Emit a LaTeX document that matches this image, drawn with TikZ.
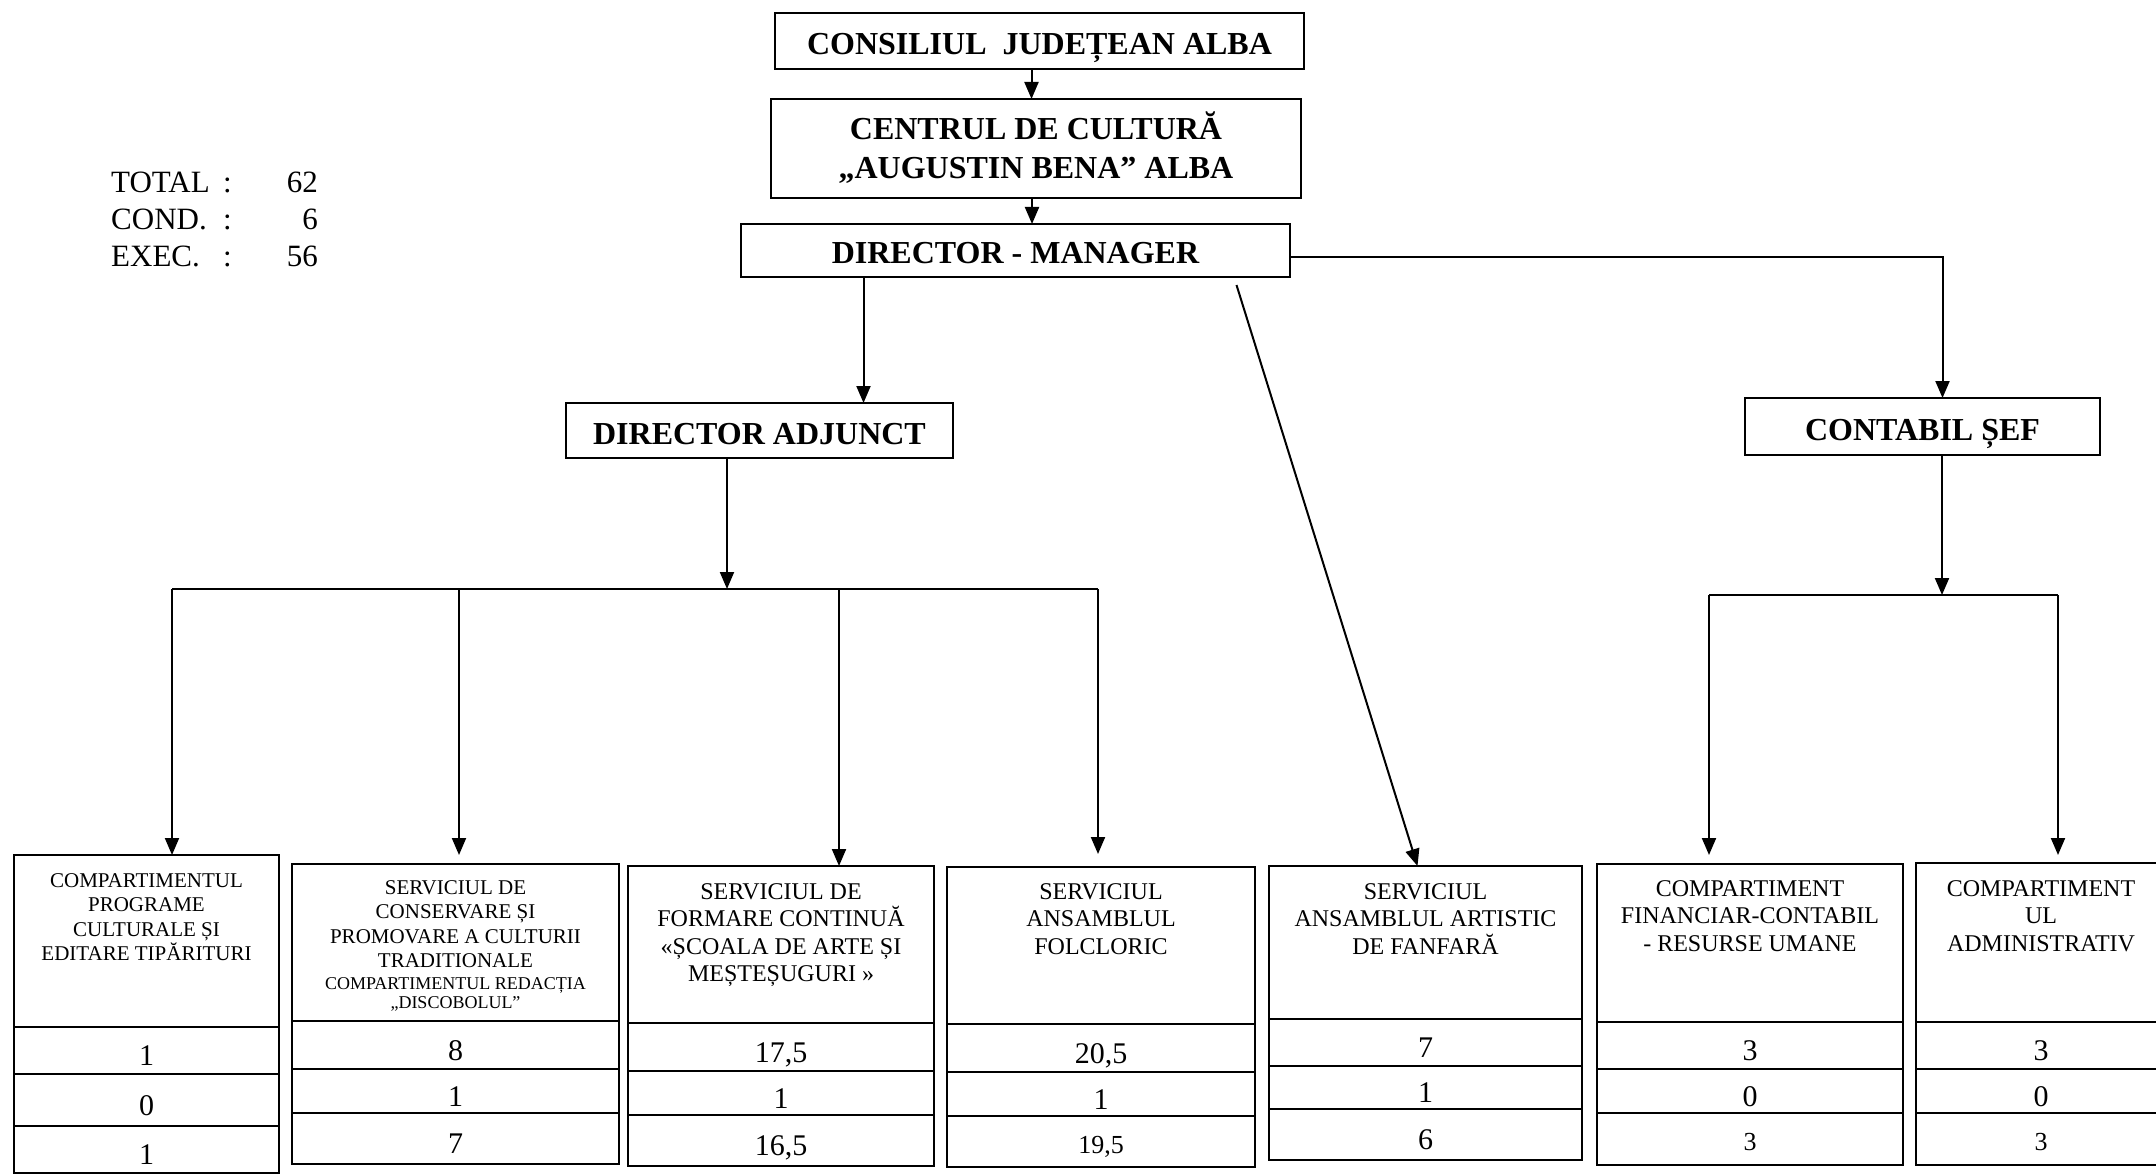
\documentclass[tikz,border=0pt]{standalone}
\usepackage{fontspec}
\setmainfont{Liberation Serif}
\usetikzlibrary{arrows.meta,positioning}

\begin{document}
\begin{tikzpicture}[x=1pt, y=-1pt,
  box/.style={draw, line width=2.2pt, inner sep=0pt, outer sep=0pt},
  head/.style={box, align=center, text height=27pt, text depth=0pt,
    font=\bfseries\fontsize{32}{39}\selectfont},
  cell/.style={box, text height=30pt, text depth=0pt, font=\fontsize{30}{30}\selectfont},
  cellsm/.style={cell, text height=23.5pt, font=\fontsize{26}{26}\selectfont},
  txt/.style={anchor=north, align=center, inner sep=0pt, font=\fontsize{24}{27.5}\selectfont},
  txtsm/.style={anchor=north, align=center, inner sep=0pt, font=\fontsize{21}{24.5}\selectfont},
  wire/.style={line width=2pt},
  link/.style={wire, -{Triangle[width=14pt,length=17pt]}}]
  \useasboundingbox (0,0) rectangle (2156,1174);

  % staff totals
  \node[anchor=north west, inner sep=0pt, font=\fontsize{31}{37}\selectfont] (total) at (111,166)
    {\begin{tabular}{@{}l@{}l@{}l@{}}
      \makebox[112pt][l]{TOTAL} & : & \makebox[86pt][r]{62}\\
      \makebox[112pt][l]{COND.} & : & \makebox[86pt][r]{6}\\
      \makebox[112pt][l]{EXEC.} & : & \makebox[86pt][r]{56}
    \end{tabular}};

  % upper levels
  \node[head, minimum width=529pt, minimum height=56pt] (cja) at (1039.5,41) {CONSILIUL\ \ JUDEȚEAN ALBA};
  \node[head, text height=60pt, minimum width=530pt, minimum height=99pt] (ccab) at (1036,148.5) {CENTRUL DE CULTURĂ\\„AUGUSTIN BENA” ALBA};
  \node[head, minimum width=549pt, minimum height=53pt] (dm) at (1015.5,250.5) {DIRECTOR - MANAGER};
  \node[head, minimum width=387pt, minimum height=55pt] (da) at (759.5,430.5) {DIRECTOR ADJUNCT};
  \node[head, minimum width=355pt, minimum height=57pt] (cs) at (1922.5,426.5) {CONTABIL ȘEF};

  % column 1
  \node[box, minimum width=265pt, minimum height=172pt] (prog) at (146.5,941) {};
  \node[cell, minimum width=265pt, minimum height=47pt, below=0pt of prog] (prog1) {1};
  \node[cell, minimum width=265pt, minimum height=52pt, below=0pt of prog1] (prog2) {0};
  \node[cell, minimum width=265pt, minimum height=47pt, below=0pt of prog2] (prog3) {1};
  \node[txtsm] (progt) at (146.5,873) {COMPARTIMENTUL\\PROGRAME\\CULTURALE ȘI\\EDITARE TIPĂRITURI};

  % column 2
  \node[box, minimum width=327pt, minimum height=157pt] (cons) at (455.5,942.5) {};
  \node[cell, minimum width=327pt, minimum height=48pt, below=0pt of cons] (cons1) {8};
  \node[cell, minimum width=327pt, minimum height=44pt, below=0pt of cons1] (cons2) {1};
  \node[cell, minimum width=327pt, minimum height=51pt, below=0pt of cons2] (cons3) {7};
  \node[txtsm] (const) at (455.5,880) {SERVICIUL DE\\CONSERVARE ȘI\\PROMOVARE A CULTURII\\TRADITIONALE};
  \node[txtsm, font=\fontsize{18}{19.5}\selectfont] (redt) at (455.5,977) {COMPARTIMENTUL REDACȚIA\\„DISCOBOLUL”};

  % column 3
  \node[box, minimum width=306pt, minimum height=157pt] (form) at (781,944.5) {};
  \node[cell, minimum width=306pt, minimum height=48pt, below=0pt of form] (form1) {17,5};
  \node[cell, minimum width=306pt, minimum height=44pt, below=0pt of form1] (form2) {1};
  \node[cell, minimum width=306pt, minimum height=51pt, below=0pt of form2] (form3) {16,5};
  \node[txt] (formt) at (781,883) {SERVICIUL DE\\FORMARE CONTINUĂ\\«ȘCOALA DE ARTE ȘI\\MEȘTEȘUGURI »};

  % column 4
  \node[box, minimum width=308pt, minimum height=157pt] (folc) at (1101,945.5) {};
  \node[cell, minimum width=308pt, minimum height=48pt, below=0pt of folc] (folc1) {20,5};
  \node[cell, minimum width=308pt, minimum height=44pt, below=0pt of folc1] (folc2) {1};
  \node[cellsm, minimum width=308pt, minimum height=51pt, below=0pt of folc2] (folc3) {19,5};
  \node[txt] (folct) at (1101,883) {SERVICIUL\\ANSAMBLUL\\FOLCLORIC};

  % column 5
  \node[box, minimum width=313pt, minimum height=153pt] (fanf) at (1425.5,942.5) {};
  \node[cell, minimum width=313pt, minimum height=47pt, below=0pt of fanf] (fanf1) {7};
  \node[cell, minimum width=313pt, minimum height=43pt, below=0pt of fanf1] (fanf2) {1};
  \node[cell, minimum width=313pt, minimum height=51pt, below=0pt of fanf2] (fanf3) {6};
  \node[txt] (fanft) at (1425.5,883) {SERVICIUL\\ANSAMBLUL ARTISTIC\\DE FANFARĂ};

  % column 6
  \node[box, minimum width=306pt, minimum height=158pt] (fin) at (1750,943) {};
  \node[cell, minimum width=306pt, minimum height=47pt, below=0pt of fin] (fin1) {3};
  \node[cell, minimum width=306pt, minimum height=44pt, below=0pt of fin1] (fin2) {0};
  \node[cellsm, minimum width=306pt, minimum height=52pt, below=0pt of fin2] (fin3) {3};
  \node[txt] (fint) at (1750,880) {COMPARTIMENT\\FINANCIAR-CONTABIL\\- RESURSE UMANE};

  % column 7
  \node[box, minimum width=250pt, minimum height=159pt] (adm) at (2041,942.5) {};
  \node[cell, minimum width=250pt, minimum height=47pt, below=0pt of adm] (adm1) {3};
  \node[cell, minimum width=250pt, minimum height=44pt, below=0pt of adm1] (adm2) {0};
  \node[cellsm, minimum width=250pt, minimum height=52pt, below=0pt of adm2] (adm3) {3};
  \node[txt] (admt) at (2041,880) {COMPARTIMENT\\UL\\ADMINISTRATIV};

  % connectors
  \draw[link] ([xshift=-8pt]cja.south) -- ([xshift=-8pt]cja.south |- ccab.north);
  \draw[link] ([xshift=-4pt]ccab.south) -- ([xshift=-4pt]ccab.south |- dm.north);
  \draw[link] ([xshift=-152pt]dm.south) -- ([xshift=-152pt]dm.south |- da.north);
  \draw[link] ([yshift=-7pt]dm.east) -| ([xshift=20pt]cs.north);
  \draw[link] ([xshift=221pt,yshift=-8pt]dm.south) -- ([xshift=-8pt]fanf.north);

  \coordinate (dabus) at (727,589);
  \coordinate (b1) at (172,589);
  \coordinate (b2) at (459,589);
  \coordinate (b3) at (839,589);
  \coordinate (b4) at (1098,589);
  \draw[link] (da.south -| dabus) -- (dabus);
  \draw[wire] (b1) -- (b4);
  \draw[link] (b1) -- (b1 |- prog.north);
  \draw[link, shorten >=9pt] (b2) -- (b2 |- cons.north);
  \draw[link] (b3) -- (b3 |- form.north);
  \draw[link, shorten >=13pt] (b4) -- (b4 |- folc.north);

  \coordinate (csbus) at (1942,595);
  \coordinate (b5) at (1709,595);
  \coordinate (b6) at (2058,595);
  \draw[link] (cs.south -| csbus) -- (csbus);
  \draw[wire] (b5) -- (b6);
  \draw[link, shorten >=9pt] (b5) -- (b5 |- fin.north);
  \draw[link, shorten >=8pt] (b6) -- (b6 |- adm.north);
\end{tikzpicture}
\end{document}
